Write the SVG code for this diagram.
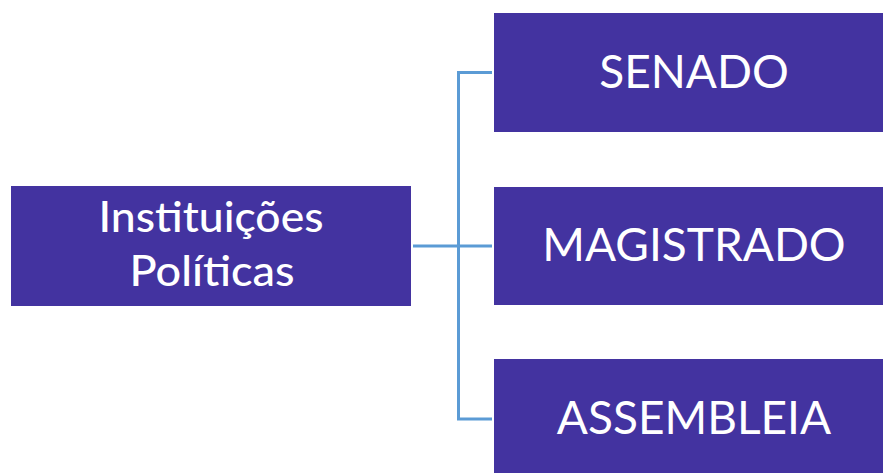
<svg xmlns="http://www.w3.org/2000/svg" width="883" height="473" viewBox="0 0 883 473">
<style>
.box{fill:#4333A0;}
.t{font-family:Lato,"Open Sans","Liberation Sans",sans-serif;fill:#ffffff;text-anchor:middle;}
.big{font-size:46px;}
.mid{font-size:42px;font-weight:500;}
.ln{stroke:#5B9BD5;stroke-width:3;fill:none;}
</style>
<rect width="883" height="473" fill="#ffffff"/>
<g id="connectors">
<path class="ln" d="M492 72.5 H458.5 V419 H492"/>
<path class="ln" d="M413 246 H492"/>
</g>
<g id="instituicoes">
<rect class="box" x="11" y="186" width="400" height="120"/>
<text class="t mid" x="211" y="232" textLength="225" lengthAdjust="spacingAndGlyphs">Instituições</text>
<text class="t mid" x="212" y="286" textLength="165" lengthAdjust="spacingAndGlyphs">Políticas</text>
</g>
<g id="senado">
<rect class="box" x="494" y="13" width="389" height="119"/>
<text class="t big" x="694" y="88">SENADO</text>
</g>
<g id="magistrado">
<rect class="box" x="494" y="187" width="389" height="118"/>
<text class="t big" x="694" y="261">MAGISTRADO</text>
</g>
<g id="assembleia">
<rect class="box" x="494" y="359" width="389" height="114"/>
<text class="t big" x="694" y="434">ASSEMBLEIA</text>
</g>
</svg>
